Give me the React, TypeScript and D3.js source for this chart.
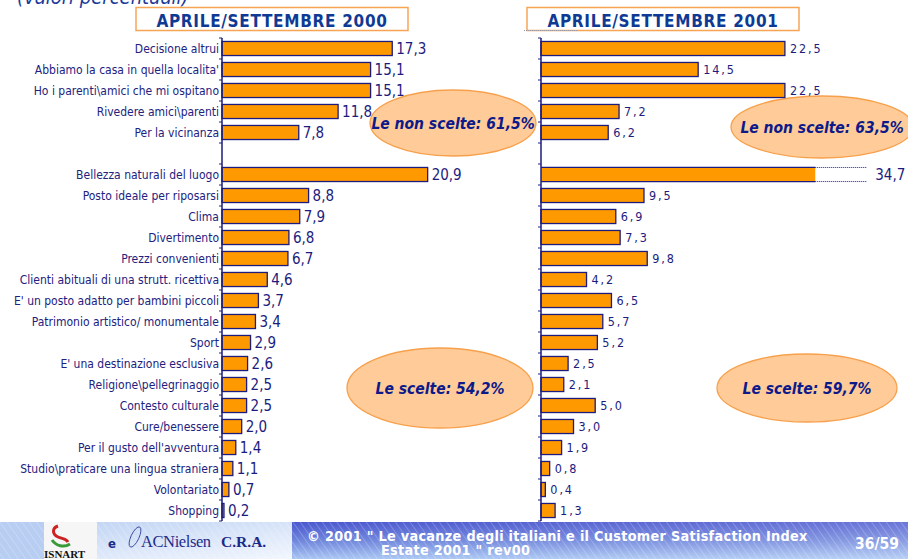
import React from "react";
import * as d3 from "d3";

const W = 908;
const H = 559;

// ---------- DATA ----------
const notChosenCategories = [
  "Decisione altrui",
  "Abbiamo la casa in quella localita'",
  "Ho i parenti\\amici che mi ospitano",
  "Rivedere amici\\parenti",
  "Per la vicinanza",
];
const chosenCategories = [
  "Bellezza naturali del luogo",
  "Posto ideale per riposarsi",
  "Clima",
  "Divertimento",
  "Prezzi convenienti",
  "Clienti abituali di una strutt. ricettiva",
  "E' un posto adatto per bambini piccoli",
  "Patrimonio artistico/ monumentale",
  "Sport",
  "E' una destinazione esclusiva",
  "Religione\\pellegrinaggio",
  "Contesto culturale",
  "Cure/benessere",
  "Per il gusto dell'avventura",
  "Studio\\praticare una lingua straniera",
  "Volontariato",
  "Shopping",
];
const notChosen2000 = [17.3, 15.1, 15.1, 11.8, 7.8];
const chosen2000 = [20.9, 8.8, 7.9, 6.8, 6.7, 4.6, 3.7, 3.4, 2.9, 2.6, 2.5, 2.5, 2.0, 1.4, 1.1, 0.7, 0.2];
const notChosen2001 = [22.5, 14.5, 22.5, 7.2, 6.2];
const chosen2001 = [34.7, 9.5, 6.9, 7.3, 9.8, 4.2, 6.5, 5.7, 5.2, 2.5, 2.1, 5.0, 3.0, 1.9, 0.8, 0.4, 1.3];
const panelTitles = ["APRILE/SETTEMBRE 2000", "APRILE/SETTEMBRE 2001"];
const notChosenTotals = ["Le non scelte: 61,5%", "Le non scelte: 63,5%"];
const chosenTotals = ["Le scelte: 54,2%", "Le scelte: 59,7%"];
const subtitle = "(valori percentuali)";
const footerLine1 = '\u00A9 2001 " Le vacanze degli italiani e il Customer Satisfaction Index';
const footerLine2 = 'Estate 2001 " rev00';
const pageNumber = "36/59";

// ---------- SCALES ----------
const GAP = "__gap__";
const rows = [...notChosenCategories, GAP, ...chosenCategories];
const y = d3
  .scaleBand<string>()
  .domain(rows)
  .range([38, 521])
  .paddingInner(0.33)
  .paddingOuter(0.165);
const xLeft = d3.scaleLinear().domain([0, 25]).range([222, 468]);
const xRight = d3.scaleLinear().domain([0, 25]).range([541, 812]);
const RIGHT_BREAK = 25.3;

const NAVY = "#1c1c7e";
const BAR = "#ff9900";
const TITLE_BLUE = "#0f3a94";
const FONT = "Tahoma, 'DejaVu Sans Condensed', 'Liberation Sans', sans-serif";

const fmt = (v: number) => v.toFixed(1).replace(".", ",");

type PanelProps = {
  x: d3.ScaleLinear<number, number>;
  values: { cat: string; v: number }[];
  small: boolean;
  breakAt?: number;
};

function Axis({ x0 }: { x0: number }) {
  const step = y.step();
  const top = y.range()[0];
  const ticks = d3.range(rows.length + 1).map((i) => top + i * step);
  return (
    <g>
      <line x1={x0} x2={x0} y1={top} y2={top + rows.length * step} stroke={NAVY} strokeWidth={1.5} />
      {ticks.map((t, i) => (
        <line key={i} x1={x0 - 3} x2={x0} y1={t} y2={t} stroke={NAVY} strokeWidth={1} />
      ))}
    </g>
  );
}

function Bars({ x, values, small, breakAt }: PanelProps) {
  const bw = y.bandwidth();
  return (
    <g>
      {values.map((d) => {
        const y0 = y(d.cat)!;
        const broken = breakAt !== undefined && d.v > breakAt;
        const xe = x(broken ? breakAt! : d.v);
        const x0 = x(0);
        return (
          <g key={d.cat}>
            {broken ? (
              <g>
                <rect x={x0} y={y0} width={xe - x0} height={bw} fill={BAR} />
                <line x1={x0} x2={xe} y1={y0} y2={y0} stroke={NAVY} strokeWidth={1.3} />
                <line x1={x0} x2={xe} y1={y0 + bw} y2={y0 + bw} stroke={NAVY} strokeWidth={1.3} />
                <line x1={xe} x2={xe + 52} y1={y0} y2={y0} stroke={NAVY} strokeWidth={1} strokeDasharray="1,1" />
                <line x1={xe} x2={xe + 52} y1={y0 + bw} y2={y0 + bw} stroke={NAVY} strokeWidth={1} strokeDasharray="1,1" />
                <text x={xe + 60} y={y0 + bw / 2 + 5.5} fontSize={15} fill={NAVY} fontFamily={FONT}>
                  {fmt(d.v)}
                </text>
              </g>
            ) : (
              <g>
                <rect
                  x={x0}
                  y={y0}
                  width={Math.max(xe - x0, 0.5)}
                  height={bw}
                  fill={BAR}
                  stroke={NAVY}
                  strokeWidth={1.3}
                />
                {small ? (
                  <text
                    x={xe + 5}
                    y={y0 + bw / 2 + 4.5}
                    fontSize={12.5}
                    letterSpacing={1.9}
                    fill={NAVY}
                    fontFamily={FONT}
                  >
                    {fmt(d.v)}
                  </text>
                ) : (
                  <text x={xe + 4} y={y0 + bw / 2 + 5.5} fontSize={15} fill={NAVY} fontFamily={FONT}>
                    {fmt(d.v)}
                  </text>
                )}
              </g>
            )}
          </g>
        );
      })}
    </g>
  );
}

function Bubble({ cx, cy, rx, ry, text }: { cx: number; cy: number; rx: number; ry: number; text: string }) {
  return (
    <g>
      <ellipse cx={cx} cy={cy} rx={rx} ry={ry} fill="#ffcc99" stroke="#f7a04c" strokeWidth={1.3} />
      <text
        x={cx}
        y={cy + 5.5}
        textAnchor="middle"
        fontSize={15.5}
        fontWeight="bold"
        fontStyle="italic"
        fill="#0d1a8a"
        fontFamily={FONT}
      >
        {text}
      </text>
    </g>
  );
}

function Header({ x, w, text }: { x: number; w: number; text: string }) {
  return (
    <g>
      <rect x={x} y={7.5} width={w} height={23} fill="#fff" stroke="#f7a555" strokeWidth={1.5} />
      <text
        x={x + w / 2}
        y={26.5}
        textAnchor="middle"
        fontSize={17}
        letterSpacing={0.7}
        fontWeight="bold"
        fill={TITLE_BLUE}
        fontFamily={FONT}
      >
        {text}
      </text>
    </g>
  );
}

function Footer() {
  return (
    <g>
      <defs>
        <linearGradient id="leftFoot" x1="0" x2="1" y1="0" y2="1">
          <stop offset="0" stopColor="#b9cff2" />
          <stop offset="1" stopColor="#f3f7fe" />
        </linearGradient>
        <linearGradient id="blueFoot" x1="0" x2="0" y1="0" y2="1">
          <stop offset="0" stopColor="#4a57cf" />
          <stop offset="0.5" stopColor="#6f86dc" />
          <stop offset="1" stopColor="#a9c6f3" />
        </linearGradient>
        <linearGradient id="blueFootH" x1="0" x2="1" y1="0" y2="0">
          <stop offset="0" stopColor="#ffffff" stopOpacity={0} />
          <stop offset="1" stopColor="#ffffff" stopOpacity={0.18} />
        </linearGradient>
        <pattern id="hatch" width="6" height="6" patternUnits="userSpaceOnUse" patternTransform="rotate(-35)">
          <line x1="0" y1="0" x2="0" y2="6" stroke="#ffffff" strokeWidth={1.2} strokeOpacity={0.35} />
        </pattern>
      </defs>
      <rect x={0} y={522} width={292} height={37} fill="url(#leftFoot)" />
      <rect x={0} y={522} width={44} height={37} fill="#b7cdf1" />
      <rect x={0} y={522} width={292} height={37} fill="url(#hatch)" />
      <rect x={44} y={522} width={53} height={37} fill="#f6f6f6" />
      <rect x={292} y={522} width={616} height={37} fill="url(#blueFoot)" />
      <rect x={292} y={522} width={616} height={37} fill="url(#blueFootH)" />
      <rect x={292} y={522} width={616} height={37} fill="url(#hatch)" />
      {/* ISNART logo */}
      <path d="M58,526 C52,528 52,534 58,537 C62,539 66,538 68,542" fill="none" stroke="#cc2222" strokeWidth={3} />
      <path d="M52,540 C56,546 64,548 70,544" fill="none" stroke="#3a9a3a" strokeWidth={3} />
      <text x={44} y={558} fontSize={11} fontWeight="bold" fill="#111" fontFamily="'Liberation Serif', serif">
        ISNART
      </text>
      <text x={108} y={548} fontSize={13} fontWeight="bold" fill="#1a2a8a" fontFamily={FONT}>
        e
      </text>
      <ellipse
        cx={135}
        cy={537}
        rx={4}
        ry={11}
        transform="rotate(25 135 537)"
        fill="none"
        stroke="#2a3a96"
        strokeWidth={0.8}
      />
      <text x={141} y={547} fontSize={16.5} fill="#1e2c8c" fontFamily="'Liberation Serif', serif" letterSpacing={-0.4}>
        ACNielsen
      </text>
      <text x={221} y={547} fontSize={15.5} fontWeight="bold" fill="#1a2a88" fontFamily="'Liberation Serif', serif">
        C.R.A.
      </text>
      <text x={307} y={540.5} fontSize={14.3} letterSpacing={0.3} fontWeight="bold" fill="#ffffff" fontFamily={FONT}>
        {footerLine1}
      </text>
      <text x={381} y={554.5} fontSize={14.3} letterSpacing={0.3} fontWeight="bold" fill="#ffffff" fontFamily={FONT}>
        {footerLine2}
      </text>
      <text x={855} y={549} fontSize={15.5} fontWeight="bold" fill="#ffffff" fontFamily={FONT}>
        {pageNumber}
      </text>
    </g>
  );
}

export default function App() {
  const left = [
    ...notChosenCategories.map((cat, i) => ({ cat, v: notChosen2000[i] })),
    ...chosenCategories.map((cat, i) => ({ cat, v: chosen2000[i] })),
  ];
  const right = [
    ...notChosenCategories.map((cat, i) => ({ cat, v: notChosen2001[i] })),
    ...chosenCategories.map((cat, i) => ({ cat, v: chosen2001[i] })),
  ];
  const bw = y.bandwidth();
  return (
    <svg
      width={W}
      height={H}
      viewBox={`0 0 ${W} ${H}`}
      style={{ position: "absolute", left: 0, top: 0, display: "block", background: "#fff" }}
    >
      <rect x={0} y={0} width={W} height={H} fill="#fff" />
      <text x={17} y={4} fontSize={20} fontStyle="italic" fill="#1a3a9a" fontFamily={FONT}>
        {subtitle}
      </text>
      <Header x={136} w={272} text={panelTitles[0]} />
      <Header x={527} w={272} text={panelTitles[1]} />
      <line x1={524} x2={577} y1={30.5} y2={30.5} stroke="#9999aa" strokeWidth={1} strokeDasharray="1,1" />

      {/* category labels */}
      {[...notChosenCategories, ...chosenCategories].map((c) => (
        <text
          key={c}
          x={219}
          y={y(c)! + bw / 2 + 4.3}
          textAnchor="end"
          fontSize={12}
          fill="#22227e"
          fontFamily={FONT}
        >
          {c}
        </text>
      ))}

      <Bubble cx={453} cy={123} rx={83} ry={33} text={notChosenTotals[0]} />
      <Bubble cx={822} cy={127} rx={91} ry={31} text={notChosenTotals[1]} />
      <Bubble cx={440} cy={388} rx={93} ry={40} text={chosenTotals[0]} />
      <Bubble cx={807} cy={388} rx={90} ry={34} text={chosenTotals[1]} />

      <Bars x={xLeft} values={left} small={false} />
      <Bars x={xRight} values={right} small={true} breakAt={RIGHT_BREAK} />
      <Axis x0={xLeft(0)} />
      <Axis x0={xRight(0)} />

      <Footer />
    </svg>
  );
}
